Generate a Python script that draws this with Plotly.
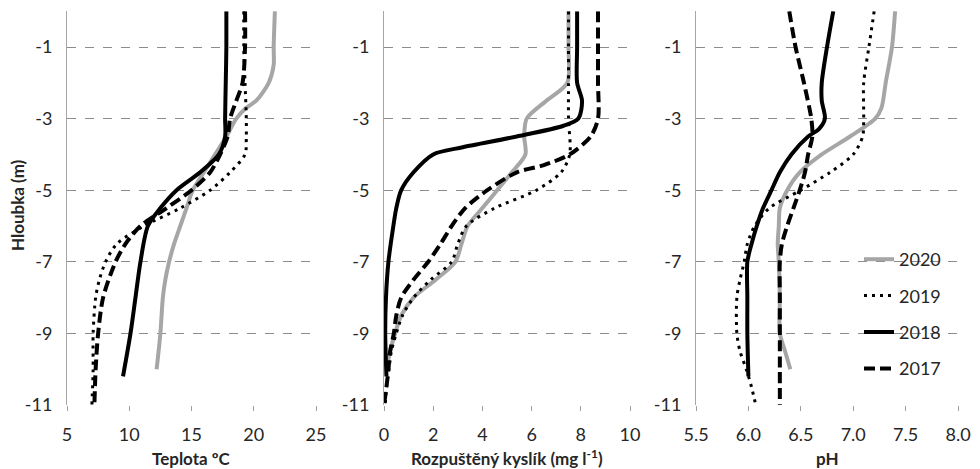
import plotly.graph_objects as go

years = ["2020", "2019", "2018", "2017"]

# ---- Teplota (°C) ----
temp_depth_2020 = [0, -1, -1.5, -2, -2.5, -2.7, -3, -3.5, -4, -4.5, -5, -5.5, -6, -6.5, -7, -7.5, -8, -9, -10]
temp_2020 = [21.7, 21.6, 21.6, 21.2, 20.2, 19.4, 18.6, 17.8, 16.9, 16.0, 15.1, 14.6, 14.1, 13.6, 13.2, 12.9, 12.7, 12.5, 12.2]
temp_depth_2019 = [0, -1, -2, -3, -3.5, -4, -4.5, -5, -5.5, -6, -6.5, -7, -7.5, -8, -9, -10, -11]
temp_2019 = [19.2, 19.2, 19.3, 19.4, 19.4, 19.3, 18.1, 16.5, 14.1, 11.2, 9.0, 8.1, 7.6, 7.3, 7.1, 7.1, 7.0]
temp_depth_2018 = [0, -1, -2, -3, -3.5, -4, -4.5, -5, -5.5, -6, -7, -8, -9, -10.2]
temp_2018 = [17.8, 17.8, 17.75, 17.7, 17.7, 17.2, 15.7, 13.8, 12.5, 11.5, 10.9, 10.5, 10.1, 9.5]
temp_depth_2017 = [0, -1, -2, -2.5, -3, -3.5, -4, -4.5, -5, -5.5, -6, -6.5, -7, -8, -9, -10, -11]
temp_2017 = [19.3, 19.3, 19.1, 18.6, 18.1, 17.9, 17.3, 16.5, 15.0, 13.0, 10.9, 9.7, 8.9, 7.9, 7.5, 7.3, 7.2]

# ---- Rozpuštěný kyslík (mg/l) ----
o2_depth_2020 = [0, -1, -2, -2.5, -3, -3.5, -4, -4.5, -5, -5.5, -6, -6.5, -7, -7.5, -8, -8.5, -9, -9.5, -10]
o2_2020 = [7.5, 7.5, 7.45, 6.6, 5.8, 5.7, 5.75, 5.2, 4.6, 4.0, 3.4, 3.15, 2.9, 2.1, 1.2, 0.7, 0.45, 0.25, 0.1]
o2_depth_2019 = [0, -1, -2, -3, -4, -4.5, -5, -5.5, -6, -6.5, -7, -7.5, -8, -8.5, -9, -9.5, -10, -10.5, -11]
o2_2019 = [7.5, 7.5, 7.5, 7.5, 7.55, 7.2, 6.2, 4.5, 3.35, 3.0, 2.75, 1.9, 1.2, 0.75, 0.5, 0.3, 0.2, 0.1, 0.05]
o2_depth_2018 = [0, -1, -2, -2.5, -3, -3.2, -3.5, -3.8, -4, -4.5, -5, -5.5, -6, -7, -8, -9, -10.2]
o2_2018 = [7.85, 7.85, 7.85, 8.05, 7.9, 7.3, 5.4, 3.2, 2.0, 1.2, 0.7, 0.5, 0.38, 0.18, 0.08, 0.05, 0.1]
o2_depth_2017 = [0, -1, -2, -3, -3.5, -4, -4.3, -4.5, -5, -5.5, -6, -6.5, -7, -7.5, -8, -8.5, -9, -9.5, -10, -10.5, -11]
o2_2017 = [8.7, 8.7, 8.7, 8.7, 8.4, 7.55, 6.5, 5.4, 4.2, 3.3, 2.75, 2.3, 1.8, 1.2, 0.7, 0.5, 0.4, 0.25, 0.18, 0.1, 0.0]

# ---- pH ----
ph_depth_2020 = [0, -1, -2, -2.7, -3, -3.5, -4, -4.5, -5, -5.5, -6, -6.5, -7, -8, -9, -9.5, -10]
ph_2020 = [7.4, 7.37, 7.31, 7.27, 7.21, 6.97, 6.7, 6.49, 6.37, 6.3, 6.29, 6.28, 6.29, 6.3, 6.3, 6.35, 6.4]
ph_depth_2019 = [0, -1, -2, -3, -3.5, -4, -4.5, -5, -5.5, -6, -6.5, -7, -7.5, -8, -9, -9.5, -10, -10.5, -11]
ph_2019 = [7.2, 7.15, 7.1, 7.1, 7.09, 7.0, 6.78, 6.5, 6.2, 6.06, 5.99, 5.96, 5.92, 5.89, 5.89, 5.92, 5.98, 6.03, 6.07]
ph_depth_2018 = [0, -1, -2, -2.5, -3, -3.3, -3.5, -4, -4.5, -5, -5.5, -6, -6.5, -7, -8, -9, -10.2]
ph_2018 = [6.81, 6.75, 6.7, 6.7, 6.73, 6.67, 6.57, 6.41, 6.3, 6.22, 6.14, 6.08, 6.03, 5.99, 5.99, 5.99, 6.0]
ph_depth_2017 = [0, -1, -2, -3, -3.5, -4, -4.5, -5, -5.5, -6, -6.5, -7, -8, -9, -10, -11]
ph_2017 = [6.39, 6.45, 6.53, 6.6, 6.61, 6.57, 6.54, 6.49, 6.43, 6.37, 6.32, 6.3, 6.3, 6.3, 6.3, 6.3]

depth_ticks = [-1, -3, -5, -7, -9, -11]
depth_ticktext = ["-1", "-3", "-5", "-7", "-9", "-11"]
temp_ticks = [5, 10, 15, 20, 25]
o2_ticks = [0, 2, 4, 6, 8, 10]
ph_ticks = [5.5, 6.0, 6.5, 7.0, 7.5, 8.0]
ph_ticktext = ["5.5", "6.0", "6.5", "7.0", "7.5", "8.0"]

panels = [
    ("x", "y", [(temp_depth_2020, temp_2020), (temp_depth_2019, temp_2019),
                (temp_depth_2018, temp_2018), (temp_depth_2017, temp_2017)]),
    ("x2", "y2", [(o2_depth_2020, o2_2020), (o2_depth_2019, o2_2019),
                  (o2_depth_2018, o2_2018), (o2_depth_2017, o2_2017)]),
    ("x3", "y3", [(ph_depth_2020, ph_2020), (ph_depth_2019, ph_2019),
                  (ph_depth_2018, ph_2018), (ph_depth_2017, ph_2017)]),
]

styles = {
    "2020": dict(color="#a6a6a6", width=4, dash="solid"),
    "2019": dict(color="#000000", width=3, dash="3px,5px"),
    "2018": dict(color="#000000", width=4, dash="solid"),
    "2017": dict(color="#000000", width=4, dash="11px,5px"),
}

fig = go.Figure()
for pi, (xa, ya, series) in enumerate(panels):
    for yr, (d, v) in zip(years, series):
        fig.add_trace(go.Scatter(
            x=v, y=d, mode="lines", name=yr, xaxis=xa, yaxis=ya,
            line=dict(shape="spline", smoothing=0.8, **styles[yr]),
            showlegend=(pi == 2), legendgroup=yr,
        ))

W, H = 980, 469
ydom = [1 - 405 / H, 1 - 11.2 / H]
font = "Lato, 'Open Sans', sans-serif"
tickfont = dict(family=font, size=18, color="#262626")
titlefont = dict(family=font, size=17, color="#262626")

def xaxis(dom, rng, tv, tt=None):
    d = dict(domain=[dom[0] / W, dom[1] / W], range=rng, tickvals=tv,
             showgrid=False, zeroline=False, showline=False, automargin=False,
             ticks="outside", ticklen=5, tickcolor="#a0a0a0", tickwidth=1,
             tickfont=tickfont, ticklabelstandoff=8, fixedrange=True)
    if tt:
        d["ticktext"] = tt
    return d

def yaxis(anchor):
    return dict(domain=ydom, range=[-11, 0], tickvals=depth_ticks, ticktext=depth_ticktext,
                showgrid=True, gridcolor="#8c8c8c", griddash="dash", gridwidth=1,
                zeroline=False, showline=True, linecolor="#a6a6a6", linewidth=1,
                automargin=False, ticks="", tickfont=tickfont, ticklabelstandoff=10,
                anchor=anchor, fixedrange=True)

fig.update_layout(
    width=W, height=H,
    margin=dict(l=0, r=0, t=0, b=0, autoexpand=False),
    paper_bgcolor="white", plot_bgcolor="white",
    font=dict(family=font, size=18, color="#262626"),
    xaxis=xaxis((67, 316), [5, 25], temp_ticks),
    xaxis2=xaxis((384, 630), [0, 10], o2_ticks),
    xaxis3=xaxis((696, 958), [5.5, 8.0], ph_ticks, ph_ticktext),
    yaxis=yaxis("x"),
    yaxis2=yaxis("x2"),
    yaxis3=yaxis("x3"),
    legend=dict(x=859 / W, y=1 - 241 / H, xanchor="left", yanchor="top",
                bgcolor="rgba(0,0,0,0)", font=dict(family=font, size=18, color="#262626"),
                tracegroupgap=10),
    annotations=[
        dict(text="<b>Teplota ºC</b>", x=(67 + 316) / 2 / W, y=1 - 458 / H, xref="paper", yref="paper",
             xanchor="center", yanchor="middle", showarrow=False, font=titlefont),
        dict(text="<b>Rozpuštěný kyslík (mg l<sup>-1</sup>)</b>", x=(384 + 630) / 2 / W, y=1 - 457 / H,
             xref="paper", yref="paper", xanchor="center", yanchor="middle", showarrow=False, font=titlefont),
        dict(text="<b>pH</b>", x=(696 + 958) / 2 / W, y=1 - 458 / H, xref="paper", yref="paper",
             xanchor="center", yanchor="middle", showarrow=False, font=titlefont),
        dict(text="<b>Hloubka (m)</b>", x=17 / W, y=1 - 205 / H, xref="paper", yref="paper",
             xanchor="center", yanchor="middle", showarrow=False, textangle=-90, font=titlefont),
    ],
)

fig.write_html(
    "out.html",
    config={"displayModeBar": False, "staticPlot": False},
    post_script="document.body.style.margin='0';document.body.style.padding='0';"
                "document.documentElement.style.overflow='hidden';",
)
